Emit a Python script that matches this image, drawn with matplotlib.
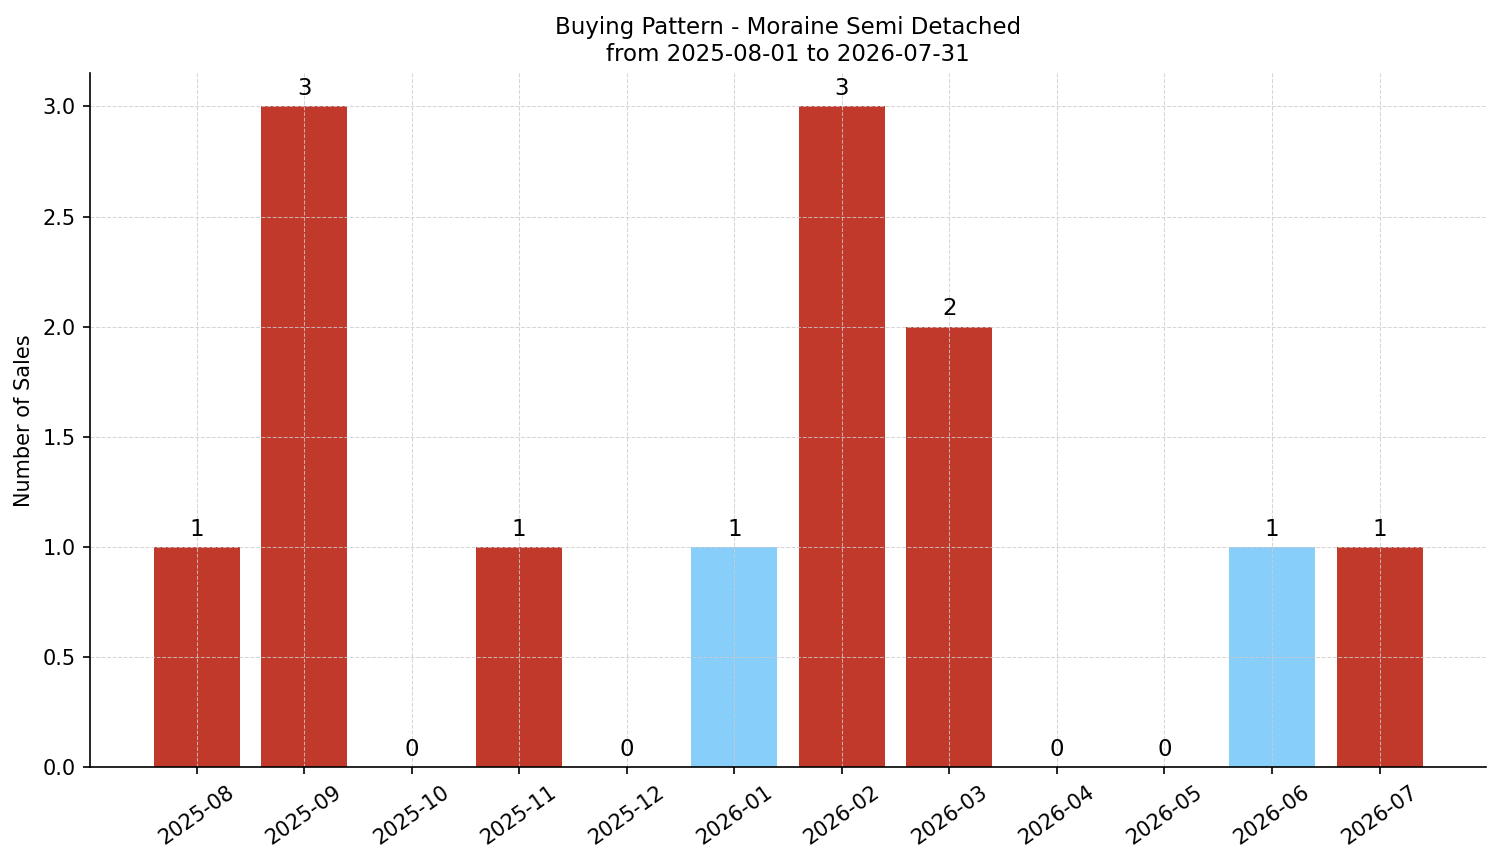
import matplotlib.pyplot as plt

# data
months = ['2025-08', '2025-09', '2025-10', '2025-11', '2025-12', '2026-01',
          '2026-02', '2026-03', '2026-04', '2026-05', '2026-06', '2026-07']
sales = [1, 3, 0, 1, 0, 1, 3, 2, 0, 0, 1, 1]
highlight = [False, False, False, False, False, True,
             False, False, False, False, True, False]

red = '#c0392b'
blue = '#87cefa'
colors = [blue if h else red for h in highlight]

fig, ax = plt.subplots(figsize=(1501 / 150, 863 / 150), dpi=150)
fig.subplots_adjust(left=0.06, right=0.99, top=0.915, bottom=0.111)

x = range(len(months))
bars = ax.bar(x, sales, color=colors, width=0.8)
for b, v in zip(bars, sales):
    ax.annotate(str(v), (b.get_x() + b.get_width() / 2, v),
                xytext=(0, 3), textcoords='offset points',
                ha='center', va='bottom', fontsize=11)

ax.set_xticks(list(x))
ax.set_xticklabels(months, rotation=35)
ax.set_ylabel('Number of Sales')
ax.set_title('Buying Pattern - Moraine Semi Detached\nfrom 2025-08-01 to 2026-07-31', fontsize=11)
ax.grid(True, linestyle='--', linewidth=0.5, color='#cccccc', alpha=0.8)
ax.spines['top'].set_visible(False)
ax.spines['right'].set_visible(False)

fig.savefig('out.png')
